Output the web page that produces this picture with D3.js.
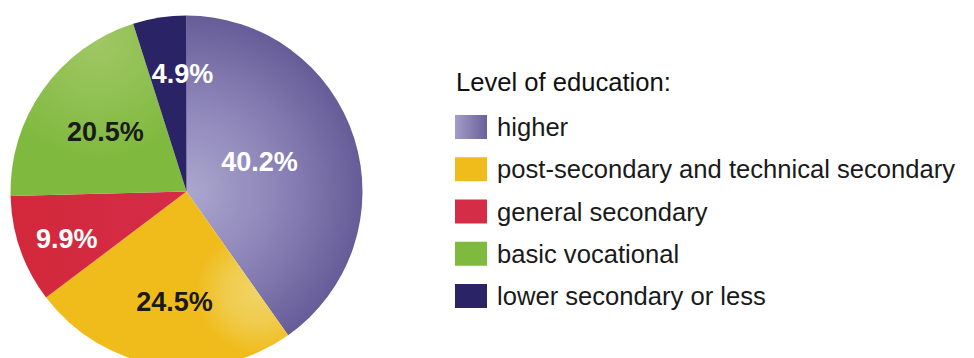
<!DOCTYPE html>
<html>
<head>
<meta charset="utf-8">
<script src="https://cdn.jsdelivr.net/npm/d3@7"></script>
<style>
  html, body { margin: 0; padding: 0; background: #fff; }
  svg { display: block; }
</style>
</head>
<body>
<svg id="chart" width="974" height="358"></svg>
<script>
// Education levels and their shares (%)
const categories = [
  "higher",
  "post-secondary and technical secondary",
  "general secondary",
  "basic vocational",
  "lower secondary or less"
];
const shares = [40.2, 24.5, 9.9, 20.5, 4.9];
const valueLabels = ["40.2%", "24.5%", "9.9%", "20.5%", "4.9%"];
const legendTitle = "Level of education:";

// Slice fills: [light, dark] pairs used in gradients
const fills = [
  ["#aca7cf", "#665c98"],
  ["#f1d466", "#f0bc1c"],
  ["#d3283a", "#d52c48"],
  ["#a0c765", "#7fb93e"],
  ["#2a2466", "#2a2466"]
];
const labelColors = ["#fff", "#1a1a1a", "#fff", "#1a1a1a", "#fff"];
// value label placement: distance from the centre and turn away from the slice mid-angle (deg)
const labelRadius = [79, 110, 128.5, 101, 118];
const labelTurn = [-4.7, -2.5, -2, 1.1, 6.9];

const FONT = "Liberation Sans, Arial, Helvetica, sans-serif";
const svg = d3.select("#chart");
const cx = 186.5, cy = 191.5, R = 176;

const defs = svg.append("defs");

// gradients below are expressed in the pie's local coordinates (origin = centre)
// higher: light at the centre, darker to the rim
const gHigher = defs.append("radialGradient").attr("id", "g0")
  .attr("gradientUnits", "userSpaceOnUse")
  .attr("cx", 0).attr("cy", 0).attr("r", R);
gHigher.append("stop").attr("offset", 0).attr("stop-color", fills[0][0]);
gHigher.append("stop").attr("offset", 0.55).attr("stop-color", "#8a82b6");
gHigher.append("stop").attr("offset", 1).attr("stop-color", fills[0][1]);

// post-secondary: soft highlight near the lower right
const gPost = defs.append("radialGradient").attr("id", "g1")
  .attr("gradientUnits", "userSpaceOnUse")
  .attr("cx", 72).attr("cy", 100).attr("r", 62);
gPost.append("stop").attr("offset", 0).attr("stop-color", fills[1][0]);
gPost.append("stop").attr("offset", 0.5).attr("stop-color", "#f0cc4e");
gPost.append("stop").attr("offset", 1).attr("stop-color", fills[1][1]);

// general secondary: red turning slightly pinker toward the centre
const gGen = defs.append("linearGradient").attr("id", "g2")
  .attr("gradientUnits", "userSpaceOnUse")
  .attr("x1", -R).attr("y1", 0).attr("x2", 0).attr("y2", 0);
gGen.append("stop").attr("offset", 0).attr("stop-color", fills[2][0]);
gGen.append("stop").attr("offset", 1).attr("stop-color", fills[2][1]);

// basic vocational: lighter toward the top
const gVoc = defs.append("radialGradient").attr("id", "g3")
  .attr("gradientUnits", "userSpaceOnUse")
  .attr("cx", -90).attr("cy", -150).attr("r", 120);
gVoc.append("stop").attr("offset", 0).attr("stop-color", fills[3][0]);
gVoc.append("stop").attr("offset", 1).attr("stop-color", fills[3][1]);

// lower secondary: flat
const gLow = defs.append("linearGradient").attr("id", "g4");
gLow.append("stop").attr("offset", 0).attr("stop-color", fills[4][0]);
gLow.append("stop").attr("offset", 1).attr("stop-color", fills[4][1]);

const pie = d3.pie().sort(null).value(d => d)
  .startAngle(0).endAngle(2 * Math.PI);
const arcs = pie(shares);
const arc = d3.arc().innerRadius(0).outerRadius(R);

const g = svg.append("g").attr("transform", `translate(${cx},${cy})`);

g.selectAll("path.slice")
  .data(arcs)
  .join("path")
  .attr("class", "slice")
  .attr("d", arc)
  .attr("fill", (d, i) => `url(#g${i})`);

// value labels
const labelAngle = (d, i) => (d.startAngle + d.endAngle) / 2 + labelTurn[i] * Math.PI / 180;
g.selectAll("text.val")
  .data(arcs)
  .join("text")
  .attr("class", "val")
  .attr("x", (d, i) => labelRadius[i] * Math.sin(labelAngle(d, i)))
  .attr("y", (d, i) => -labelRadius[i] * Math.cos(labelAngle(d, i)))
  .attr("dy", "0.36em")
  .attr("text-anchor", "middle")
  .attr("font-family", FONT)
  .attr("font-weight", "bold")
  .attr("font-size", 27)
  .attr("fill", (d, i) => labelColors[i])
  .text((d, i) => valueLabels[i]);

// legend swatch gradients
categories.forEach((c, i) => {
  const lg = defs.append("linearGradient").attr("id", `lg${i}`)
    .attr("x1", 0).attr("y1", 0).attr("x2", 1).attr("y2", 0);
  lg.append("stop").attr("offset", 0).attr("stop-color", i === 0 ? "#a29dc8" : fills[i][1]);
  lg.append("stop").attr("offset", 1).attr("stop-color", i === 0 ? "#6a609a" : fills[i][1]);
});

// legend
const legend = svg.append("g").attr("transform", "translate(455,0)");
legend.append("text")
  .attr("x", 1).attr("y", 91)
  .attr("font-family", FONT)
  .attr("font-size", 25.6)
  .attr("fill", "#111")
  .text(legendTitle);

const rowY = d3.scalePoint().domain(categories).range([127, 296]);

const rows = legend.selectAll("g.row")
  .data(categories)
  .join("g")
  .attr("class", "row")
  .attr("transform", d => `translate(0,${rowY(d)})`);

rows.append("rect")
  .attr("x", 0).attr("y", -12)
  .attr("width", 32).attr("height", 24)
  .attr("fill", (d, i) => `url(#lg${i})`);

rows.append("text")
  .attr("x", 42).attr("y", 9)
  .attr("font-family", FONT)
  .attr("font-size", 25.6)
  .attr("fill", "#1a1a1a")
  .text(d => d);
</script>
</body>
</html>
